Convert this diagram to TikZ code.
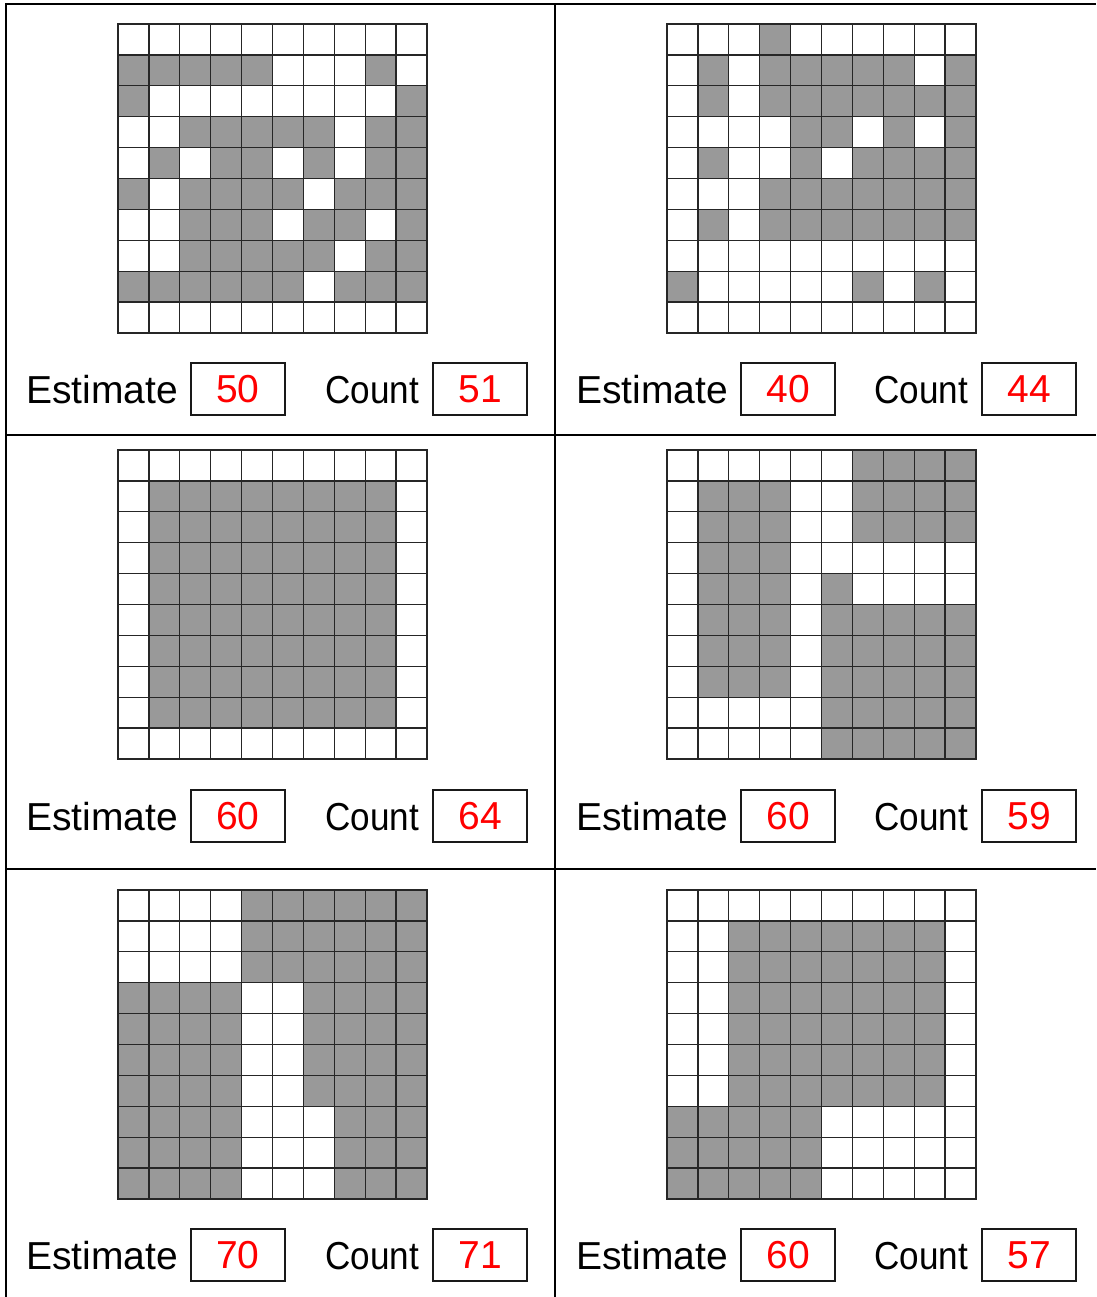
\documentclass[tikz,border=0pt]{standalone}
\usepackage{fontspec}
\usepackage{graphicx}
\setmainfont{Liberation Sans}
\definecolor{cellgrey}{RGB}{153,153,153}
\definecolor{numred}{RGB}{255,0,0}
\newcommand\lblfont{\fontsize{39}{42}\selectfont}
\newcommand\cntword{\scalebox{0.9}[1]{Count}}
\newcommand\cellrow[2]{\foreach \cc in {#2}{\fill[cellfill] (\cc,#1) rectangle ++(1,1);}}
\newcommand\gridlines{\foreach \i in {0,...,10}{\draw[gridline] (\i,0) -- (\i,10); \draw[gridline] (0,\i) -- (10,\i);}}
\tikzset{
  cellfill/.style={fill=cellgrey},
  gridline/.style={line width=1.3pt, draw=black!85, line cap=rect},
  framelines/.style={line width=2.6pt, draw=black},
  lbl/.style={font=\lblfont, anchor=base west, inner sep=0pt, text=black},
  numbox/.style={draw=black!90, line width=1.3pt, minimum width=94pt, minimum height=52pt, inner sep=0pt, font=\lblfont, text=numred},
  gridscope/.style={x=30.9pt, y=-30.9pt}
}
\begin{document}
\begin{tikzpicture}[x=1pt, y=-1pt]
\useasboundingbox (0,0) rectangle (1096,1297);
\fill[white] (0,0) rectangle (1096,1297);

% Grid 1 (top left)
\begin{scope}[shift={(118,24)}, gridscope]
\cellrow{1}{0,1,2,3,4,8}
\cellrow{2}{0,9}
\cellrow{3}{2,3,4,5,6,8,9}
\cellrow{4}{1,3,4,6,8,9}
\cellrow{5}{0,2,3,4,5,7,8,9}
\cellrow{6}{2,3,4,6,7,9}
\cellrow{7}{2,3,4,5,6,8,9}
\cellrow{8}{0,1,2,3,4,5,7,8,9}
\gridlines
\end{scope}

% Grid 2 (top right)
\begin{scope}[shift={(667,24)}, gridscope]
\cellrow{0}{3}
\cellrow{1}{1,3,4,5,6,7,9}
\cellrow{2}{1,3,4,5,6,7,8,9}
\cellrow{3}{4,5,7,9}
\cellrow{4}{1,4,6,7,8,9}
\cellrow{5}{3,4,5,6,7,8,9}
\cellrow{6}{1,3,4,5,6,7,8,9}
\cellrow{8}{0,6,8}
\gridlines
\end{scope}

% Grid 3 (middle left)
\begin{scope}[shift={(118,450)}, gridscope]
\fill[cellfill] (1,1) rectangle (9,9);
\gridlines
\end{scope}

% Grid 4 (middle right)
\begin{scope}[shift={(667,450)}, gridscope]
\fill[cellfill] (6,0) rectangle (10,3);
\fill[cellfill] (1,1) rectangle (4,8);
\fill[cellfill] (5,4) rectangle (6,10);
\fill[cellfill] (6,5) rectangle (10,10);
\gridlines
\end{scope}

% Grid 5 (bottom left)
\begin{scope}[shift={(118,890)}, gridscope]
\fill[cellfill] (4,0) rectangle (10,3);
\fill[cellfill] (0,3) rectangle (4,10);
\fill[cellfill] (6,3) rectangle (10,7);
\fill[cellfill] (7,7) rectangle (10,10);
\gridlines
\end{scope}

% Grid 6 (bottom right)
\begin{scope}[shift={(667,890)}, gridscope]
\fill[cellfill] (2,1) rectangle (9,7);
\fill[cellfill] (0,7) rectangle (5,10);
\gridlines
\end{scope}

% Frame
\draw[framelines] (6,1297) -- (6,4) -- (1096,4);
\draw[framelines] (555,4) -- (555,1297);
\draw[framelines] (6,435) -- (1096,435);
\draw[framelines] (6,869) -- (1096,869);

% Labels row 1
\node[lbl] (est1) at (26,403) {Estimate};
\node[numbox] (estbox1) at (238,389) {50};
\node[lbl] (cnt1) at (325,403) {\cntword};
\node[numbox] (cntbox1) at (480,389) {51};
\node[lbl] (est2) at (576,403) {Estimate};
\node[numbox] (estbox2) at (788,389) {40};
\node[lbl] (cnt2) at (874,403) {\cntword};
\node[numbox] (cntbox2) at (1029,389) {44};

% Labels row 2
\node[lbl] (est3) at (26,830) {Estimate};
\node[numbox] (estbox3) at (238,816) {60};
\node[lbl] (cnt3) at (325,830) {\cntword};
\node[numbox] (cntbox3) at (480,816) {64};
\node[lbl] (est4) at (576,830) {Estimate};
\node[numbox] (estbox4) at (788,816) {60};
\node[lbl] (cnt4) at (874,830) {\cntword};
\node[numbox] (cntbox4) at (1029,816) {59};

% Labels row 3
\node[lbl] (est5) at (26,1269) {Estimate};
\node[numbox] (estbox5) at (238,1255) {70};
\node[lbl] (cnt5) at (325,1269) {\cntword};
\node[numbox] (cntbox5) at (480,1255) {71};
\node[lbl] (est6) at (576,1269) {Estimate};
\node[numbox] (estbox6) at (788,1255) {60};
\node[lbl] (cnt6) at (874,1269) {\cntword};
\node[numbox] (cntbox6) at (1029,1255) {57};
\end{tikzpicture}
\end{document}
